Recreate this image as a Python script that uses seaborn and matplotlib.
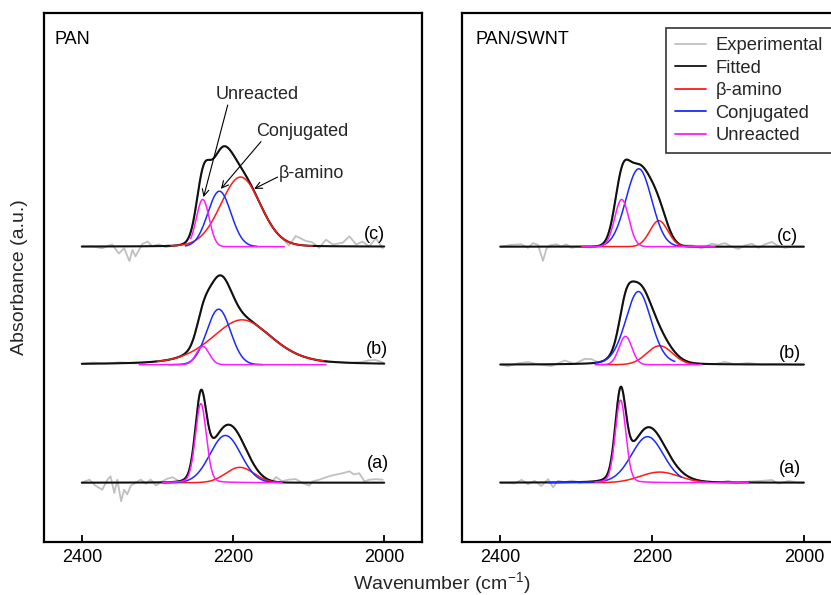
import numpy as np
import pandas as pd
import matplotlib
matplotlib.use("Agg")
import matplotlib.pyplot as plt
from matplotlib.lines import Line2D
import seaborn as sns

# ---------------- data ----------------
panel_titles = ["PAN", "PAN/SWNT"]
trace_labels = ["(a)", "(b)", "(c)"]
trace_offsets = [0.0, 1.0, 2.0]
legend_labels = ["Experimental", "Fitted", "\u03b2-amino", "Conjugated", "Unreacted"]
xticks = [2400, 2200, 2000]

# fitted component peaks per trace (a), (b), (c): (centre cm-1, height, FWHM, lorentz fraction)
pan_beta = [(2191, 0.13, 44, 0.0), (2188, 0.38, 95, 0.4), (2190, 0.59, 62, 0.1)]
pan_conj = [(2210, 0.40, 48, 0.0), (2219, 0.47, 37, 0.0), (2218, 0.47, 36, 0.0)]
pan_unre = [(2242.5, 0.67, 17, 0.15), (2240, 0.155, 20, 0.0), (2240, 0.40, 20, 0.0)]
swnt_beta = [(2190, 0.09, 60, 0.0), (2190, 0.16, 40, 0.0), (2191, 0.22, 28, 0.0)]
swnt_conj = [(2206, 0.39, 50, 0.1), (2218, 0.62, 40, 0.2), (2217.5, 0.66, 40, 0.0)]
swnt_unre = [(2241.5, 0.70, 16.5, 0.15), (2235, 0.24, 20, 0.0), (2240, 0.40, 22, 0.0)]

# wavenumber span over which each component curve is drawn (a), (b), (c)
pan_beta_span = [(2293, 2139), (2300, 2080), (2282, 2095)]
pan_conj_span = [(2293, 2148), (2285, 2161), (2263, 2168)]
pan_unre_span = [(2293, 2135), (2324, 2077), (2256, 2132)]
swnt_beta_span = [(2297, 2126), (2267, 2143), (2293, 2121)]
swnt_conj_span = [(2337, 2161), (2275, 2170), (2275, 2163)]
swnt_unre_span = [(2275, 2073), (2275, 2135), (2291, 2117)]

# experimental deviations from the fit (noisy wings)
pan_a_noise_wn = [2400, 2390, 2382, 2373, 2366, 2362, 2357, 2353, 2348, 2344, 2340, 2335, 2326, 2322,
                  2315, 2309, 2302, 2293, 2287, 2280, 2271,
                  2148, 2143, 2135, 2126, 2117, 2108, 2099, 2095, 2086, 2073, 2064, 2055, 2046, 2040,
                  2033, 2026, 2020, 2011, 2002]
pan_a_noise_dev = [0.0, 0.025, -0.025, -0.06, 0.025, 0.054, -0.088, 0.025, -0.158, -0.06, -0.10, -0.025,
                   0.01, 0.025, -0.01, 0.025, -0.025, 0.01, 0.03, 0.04, 0.0,
                   0.0, 0.04, 0.01, 0.025, 0.03, -0.003, -0.025, 0.01, 0.025, 0.054, 0.068, 0.08, 0.096,
                   0.07, 0.08, 0.01, 0.025, 0.03, 0.025]
pan_b_noise_wn = [2400, 2385, 2370, 2350, 2330, 2310, 2295,
                  2100, 2080, 2060, 2045, 2030, 2020, 2012, 2004, 2000]
pan_b_noise_dev = [0.0, 0.01, 0.0, 0.008, -0.005, 0.0, 0.0,
                   0.0, -0.01, 0.005, 0.0, 0.01, 0.025, 0.03, 0.015, 0.0]
pan_c_noise_wn = [2400, 2386, 2373, 2360, 2351, 2344, 2337, 2333, 2329, 2320, 2313, 2307, 2298, 2289, 2280,
                  2135, 2126, 2117, 2104, 2095, 2086, 2077, 2068, 2055, 2046, 2037, 2029, 2020, 2011, 2002]
pan_c_noise_dev = [0.0, 0.0, -0.015, 0.017, -0.06, -0.015, -0.125, -0.03, -0.085, 0.02, 0.04, 0.0, 0.015, -0.01, 0.0,
                   0.0, -0.03, 0.07, 0.04, 0.03, -0.015, 0.055, 0.015, 0.03, 0.085, 0.015, 0.04, 0.0, 0.07, -0.015]
swnt_a_noise_wn = [2399, 2381, 2372, 2363.5, 2354.7, 2345.9, 2337, 2330.5, 2323.9, 2315, 2306.3, 2297.5,
                   2108.3, 2099.5, 2090.7, 2073, 2055.5, 2042.3, 2033.5, 2020, 2007, 2000]
swnt_a_noise_dev = [0.0, -0.008, 0.023, -0.014, 0.014, -0.03, 0.028, -0.042, 0.014, 0.0, 0.014, 0.0,
                    0.0, 0.014, -0.008, 0.008, 0.014, 0.022, -0.008, 0.014, 0.0, 0.0]
swnt_b_noise_wn = [2399, 2390, 2376.7, 2363.5, 2350.3, 2332.7, 2315, 2302, 2288.7, 2280, 2271,
                   2117, 2104, 2091, 2073, 2055.5, 2033.5, 2000]
swnt_b_noise_dev = [0.0, -0.015, 0.01, 0.02, 0.0, -0.015, 0.03, 0.0, 0.04, 0.035, 0.0,
                    0.0, 0.02, 0.0, 0.012, 0.0, 0.005, 0.0]
swnt_c_noise_wn = [2399, 2385.5, 2372.3, 2363.5, 2356.9, 2350.3, 2343.7, 2339.3, 2334.9, 2326.1, 2319.5,
                   2312.9, 2306.3, 2297.5,
                   2161, 2147.9, 2134.7, 2121.5, 2112.7, 2103.9, 2095.1, 2086.3, 2077.5, 2068.7, 2059.9,
                   2051.1, 2042.3, 2033.5, 2024.7, 2015.9, 2000]
swnt_c_noise_dev = [0.0, 0.015, 0.02, -0.01, 0.03, 0.015, -0.12, -0.02, 0.01, 0.02, 0.0, 0.02, -0.01, 0.0,
                    0.0, 0.01, -0.015, 0.025, 0.015, 0.03, 0.0, -0.02, 0.01, 0.025, -0.01, 0.02, 0.04,
                    0.005, -0.01, 0.0, 0.0]

# ---------------- style ----------------
sns.set_theme(style="white")
plt.rcParams["font.family"] = ["Liberation Sans", "DejaVu Sans"]
plt.rcParams["mathtext.fontset"] = "custom"
plt.rcParams["mathtext.rm"] = "Liberation Sans"
plt.rcParams["mathtext.it"] = "Liberation Sans"

COL_EXP = "#c0c0c0"
COL_FIT = "#111111"
COL_BETA = "#ff1a1a"
COL_CONJ = "#1a2aff"
COL_UNRE = "#ff1aff"


def peak(x, p):
    c, h, w, eta = p
    u = (x - c) / w
    return h * ((1 - eta) * np.exp(-4 * np.log(2) * u ** 2) + eta / (1 + 4 * u ** 2))


grid = np.arange(2400.0, 1999.5, -0.5)

panels = [
    dict(title=panel_titles[0], beta=pan_beta, conj=pan_conj, unre=pan_unre,
         spans=(pan_beta_span, pan_conj_span, pan_unre_span),
         noise=[(pan_a_noise_wn, pan_a_noise_dev), (pan_b_noise_wn, pan_b_noise_dev),
                (pan_c_noise_wn, pan_c_noise_dev)]),
    dict(title=panel_titles[1], beta=swnt_beta, conj=swnt_conj, unre=swnt_unre,
         spans=(swnt_beta_span, swnt_conj_span, swnt_unre_span),
         noise=[(swnt_a_noise_wn, swnt_a_noise_dev), (swnt_b_noise_wn, swnt_b_noise_dev),
                (swnt_c_noise_wn, swnt_c_noise_dev)]),
]

W, H = 831, 595
fig = plt.figure(figsize=(W / 100, H / 100), dpi=100)
ax_left = fig.add_axes([44 / W, (H - 541.7) / H, 378 / W, 528.7 / H])
ax_right = fig.add_axes([462.3 / W, (H - 541.7) / H, 379.5 / W, 528.7 / H])
axes = [ax_left, ax_right]


def draw(ax, x, y, color, lw):
    sns.lineplot(x=x, y=y, ax=ax, color=color, lw=lw, sort=False, estimator=None,
                 legend=False)


for ax, pdata in zip(axes, panels):
    for i in range(3):
        off = trace_offsets[i]
        comps = [pdata["beta"][i], pdata["conj"][i], pdata["unre"][i]]
        fitted = sum(peak(grid, p) for p in comps)

        # experimental: noisy wings + fitted shape in between
        nwn = np.array(pdata["noise"][i][0], dtype=float)
        ndev = np.array(pdata["noise"][i][1], dtype=float)
        hi = nwn[nwn > 2220].min()
        lo = nwn[nwn < 2220].max()
        mid = grid[(grid < hi) & (grid > lo)]
        ex = np.concatenate([nwn, mid])
        ey = np.concatenate([sum(peak(nwn, p) for p in comps) + ndev,
                             sum(peak(mid, p) for p in comps)])
        order = np.argsort(-ex)
        draw(ax, ex[order], ey[order] + off, COL_EXP, 1.3)

        draw(ax, grid, fitted + off, COL_FIT, 1.5)

        for p, spans, col in zip(comps, pdata["spans"], [COL_BETA, COL_CONJ, COL_UNRE]):
            s_hi, s_lo = spans[i]
            xs = grid[(grid <= s_hi) & (grid >= s_lo)]
            draw(ax, xs, peak(xs, p) + off, col, 1.1)

    ax.set_xlim(2450, 1950)
    ax.set_ylim(-0.5, 3.98)
    ax.set_xticks(xticks)
    ax.set_xticklabels([str(t) for t in xticks])
    ax.set_yticks([])
    ax.set_xlabel("")
    ax.set_ylabel("")
    ax.tick_params(axis="x", direction="in", length=5, width=1.3, labelsize=13, pad=5,
                   colors="black", bottom=True)
    for s in ax.spines.values():
        s.set_visible(True)
        s.set_color("black")
        s.set_linewidth(1.6)

# panel titles
ax_left.text(0.029, 0.949, panel_titles[0], transform=ax_left.transAxes, fontsize=13,
             ha="left", va="center", color="black")
ax_right.text(0.036, 0.949, panel_titles[1], transform=ax_right.transAxes, fontsize=13,
              ha="left", va="center", color="black")

# trace labels
left_lab_pos = [(2008, 0.16), (2010, 1.125), (2013, 2.105)]
right_lab_pos = [(2018, 0.12), (2018, 1.095), (2021, 2.085)]
for lab, (xl, yl), (xr, yr) in zip(trace_labels, left_lab_pos, right_lab_pos):
    ax_left.text(xl, yl, lab, fontsize=13, ha="center", va="center", color="black")
    ax_right.text(xr, yr, lab, fontsize=13, ha="center", va="center", color="black")

# annotations (left panel)
arrow = dict(arrowstyle="->", lw=0.8, color="black", shrinkA=0, shrinkB=0)
ax_left.text(2168, 3.29, "Unreacted", fontsize=13, ha="center", va="center")
ax_left.annotate("", xy=(2239, 2.42), xytext=(2207, 3.20), arrowprops=arrow)
ax_left.text(2108, 2.975, "Conjugated", fontsize=13, ha="center", va="center")
ax_left.annotate("", xy=(2216, 2.49), xytext=(2163, 2.89), arrowprops=arrow)
ax_left.text(2139, 2.62, "\u03b2-amino", fontsize=13, ha="left", va="center")
ax_left.annotate("", xy=(2172, 2.49), xytext=(2141, 2.59), arrowprops=arrow)

# legend
handles = [Line2D([], [], color=c, lw=1.3) for c in [COL_EXP, COL_FIT, COL_BETA, COL_CONJ, COL_UNRE]]
leg = fig.legend(handles, legend_labels, loc="upper left",
                 bbox_to_anchor=(666 / W, 1 - 28 / H), fontsize=13.2, frameon=True,
                 fancybox=False, handlelength=1.7, handletextpad=0.5, labelspacing=0.3,
                 borderpad=0.5, borderaxespad=0)
leg.get_frame().set_edgecolor("black")
leg.get_frame().set_linewidth(1.2)

# axis labels
fig.text(442 / W, 1 - 583 / H, "Wavenumber (cm$^{-1}$)", fontsize=14, ha="center", va="center")
fig.text(20 / W, 1 - 277 / H, "Absorbance (a.u.)", fontsize=14, ha="center", va="center",
         rotation=90)

fig.savefig("out.png", dpi=100)
